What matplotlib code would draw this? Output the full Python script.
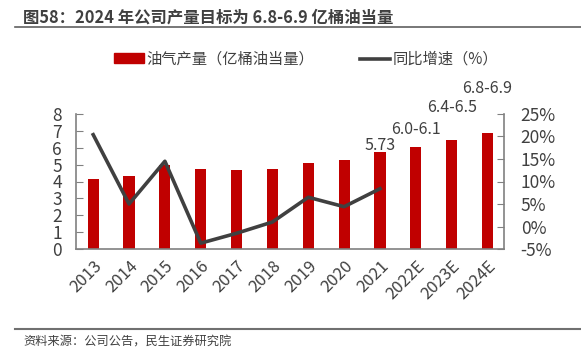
import matplotlib.pyplot as plt
from matplotlib.lines import Line2D
from matplotlib.patches import Patch

plt.rcParams['font.family'] = ['Noto Sans CJK SC', 'DejaVu Sans']

years = ['2013', '2014', '2015', '2016', '2017', '2018', '2019', '2020',
         '2021', '2022E', '2023E', '2024E']
output = [4.14, 4.32, 4.97, 4.77, 4.69, 4.73, 5.07, 5.27, 5.73, 6.05, 6.45, 6.85]
growth = [20.4, 5.0, 14.5, -3.7, -1.5, 1.0, 6.5, 4.4, 8.4]
# annotated bars: index, text, height of label (value axis units)
note_idx = [8, 9, 10, 11]
note_txt = ['5.73', '6.0-6.1', '6.4-6.5', '6.8-6.9']
note_y = [6.15, 7.1, 8.4, 9.5]

red = '#C00000'
gray = '#404040'
axc = '#808080'
tc = '#404040'

fig = plt.figure(figsize=(5.81, 3.63), dpi=100)
ax = fig.add_axes([0.1308, 0.314, 0.7367, 0.372])
ax2 = ax.twinx()

x = list(range(len(years)))
ax.bar(x, output, width=0.31, color=red, zorder=2)
for i, t, yy in zip(note_idx, note_txt, note_y):
    ax.text(i, yy, t, ha='center', va='center', fontsize=11.5, color=tc,
            clip_on=False)

ax2.plot(x[:len(growth)], growth, color=gray, lw=2.6, zorder=3)

ax.set_xlim(-0.48, 11.46)
ax.set_ylim(0, 8)
ax.set_yticks(range(0, 9))
ax2.set_ylim(-5, 25)
ax2.set_yticks(range(-5, 26, 5))
ax2.set_yticklabels([f'{v}%' for v in range(-5, 26, 5)])

ax.set_xticks(x)
ax.set_xticklabels(years, rotation=45, ha='right', rotation_mode='anchor')
for a in (ax, ax2):
    a.set_facecolor('none')
    for s in a.spines.values():
        s.set_visible(False)
ax.spines['left'].set_visible(True)
ax.spines['bottom'].set_visible(True)
ax2.spines['right'].set_visible(True)
for s in (ax.spines['left'], ax.spines['bottom'], ax2.spines['right']):
    s.set_color(axc)
    s.set_linewidth(1.2)
ax.tick_params(axis='y', direction='in', length=5, color=axc, labelsize=12.5,
               labelcolor=tc, pad=10)
ax.tick_params(axis='x', length=0, labelsize=12, labelcolor=tc, pad=6)
ax2.tick_params(axis='y', direction='in', length=5, color=axc, labelsize=12.5,
                labelcolor=tc, pad=12)
ax.set_zorder(ax2.get_zorder() - 1)
ax2.patch.set_visible(False)

handles = [Patch(color=red), Line2D([0], [0], color=gray, lw=2.6)]
fig.legend(handles, ['油气产量（亿桶油当量）', '同比增速（%）'], loc='center',
           bbox_to_anchor=(0.527, 0.837), ncol=2, frameon=False, fontsize=11,
           handlelength=1.95, handleheight=0.6, columnspacing=3.0,
           handletextpad=0.2, labelcolor=tc, borderpad=0, borderaxespad=0)

fig.text(0.040, 0.953, '图58：2024 年公司产量目标为 6.8-6.9 亿桶油当量',
         fontsize=11.8, fontweight='bold', color='#404040', va='center')
fig.add_artist(Line2D([0.026, 1.0], [0.926, 0.926], color='#606060', lw=1.2))
fig.add_artist(Line2D([0.025, 1.0], [0.094, 0.094], color='#707070', lw=1.5))
fig.text(0.040, 0.058, '资料来源：公司公告，民生证券研究院', fontsize=8.8,
         color='#404040', va='center')

fig.savefig('out.png', dpi=100)
